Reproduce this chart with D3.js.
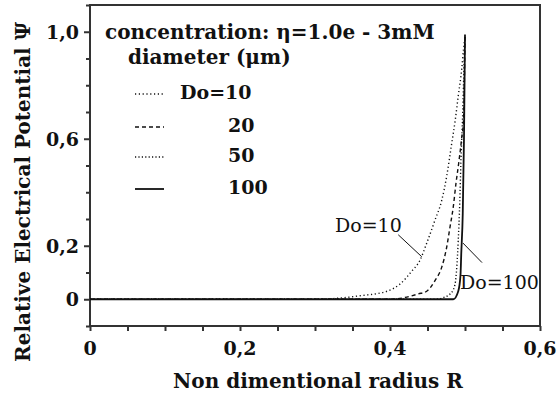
<!DOCTYPE html>
<html>
<head>
<meta charset="utf-8">
<script src="https://cdn.jsdelivr.net/npm/d3@7"></script>
<style>
  html, body { margin: 0; padding: 0; background: #fff; }
  svg text { font-family: "DejaVu Serif", "Liberation Serif", serif; font-weight: bold; fill: #111; }
  svg text.note { font-weight: normal; }
</style>
</head>
<body>
<svg id="chart" width="558" height="396"></svg>
<script>
// Relative electrical potential Ψ against non-dimensional radius R
const xTicksMajor = [0, 0.2, 0.4, 0.6];
const xTickLabels = ["0", "0,2", "0,4", "0,6"];
const yTicksLabelled = [0, 0.2, 0.6, 1.0];
const yTickLabels = ["0", "0,2", "0,6", "1,0"];

// Do = 10 µm
const r10   = [0, 0.30, 0.36, 0.396, 0.413, 0.429, 0.44, 0.449, 0.46, 0.469, 0.4756, 0.482, 0.487, 0.491, 0.4956, 0.498, 0.5];
const psi10 = [0, 0.0, 0.013, 0.03, 0.056, 0.105, 0.146, 0.21, 0.296, 0.37, 0.46, 0.577, 0.67, 0.76, 0.86, 0.935, 0.98];
// Do = 20 µm
const r20   = [0, 0.40, 0.438, 0.449, 0.46, 0.469, 0.4756, 0.48, 0.4844, 0.488, 0.491, 0.4955, 0.498, 0.5];
const psi20 = [0, 0.0, 0.02, 0.03, 0.07, 0.12, 0.195, 0.27, 0.346, 0.434, 0.496, 0.6, 0.67, 0.98];
// Do = 50 µm
const r50   = [0, 0.46, 0.471, 0.482, 0.4867, 0.489, 0.491, 0.493, 0.4945, 0.497, 0.4985, 0.5];
const psi50 = [0, 0.0, 0.006, 0.025, 0.056, 0.119, 0.22, 0.36, 0.51, 0.7, 0.85, 0.98];
// Do = 100 µm
const r100   = [0, 0.4844, 0.491, 0.494, 0.495, 0.497, 0.4987, 0.5];
const psi100 = [0, 0.0, 0.03, 0.09, 0.17, 0.32, 0.61, 0.99];

const legendTitle = ["concentration: η=1.0e - 3mM", "diameter (μm)"];
const legendLabels = ["Do=10", "20", "50", "100"];
const seriesStyles = [
  { dash: "1.2,2.6", width: 1.4 },
  { dash: "4,3", width: 1.4 },
  { dash: "1.2,2.2", width: 1.4 },
  { dash: null, width: 1.8 }
];

// In-plot annotations, in data units
const noteText = ["Do=10", "Do=100"];
const noteAt = [[0.3267, 0.251], [0.4933, 0.0375]];
const noteLeader = [
  [[0.411, 0.241], [0.4423, 0.159]],
  [[0.4973, 0.21], [0.5227, 0.137]]
];

const series = [[r10, psi10], [r20, psi20], [r50, psi50], [r100, psi100]]
  .map(([r, p]) => r.map((d, i) => [d, p[i]]));

const svg = d3.select("#chart");
const margin = { left: 90, right: 18, top: 5, bottom: 70 };
const W = 558, H = 396;

const x = d3.scaleLinear().domain([0, 0.6]).range([margin.left, W - margin.right]);
const y = d3.scaleLinear().domain([-0.1, 1.1]).range([H - margin.bottom, margin.top]);

const axisColor = "#333";
const labelSize = 20;
const tickSize = 19;

// frame
svg.append("rect")
  .attr("x", x(0)).attr("y", y(1.1))
  .attr("width", x(0.6) - x(0)).attr("height", y(-0.1) - y(1.1))
  .attr("fill", "none").attr("stroke", axisColor).attr("stroke-width", 2);

// x axis: minor every 0.05
const xAxis = d3.axisBottom(x)
  .tickValues(d3.range(0, 0.6001, 0.05))
  .tickSize(5)
  .tickFormat(() => "");
const gx = svg.append("g").attr("transform", `translate(0,${y(-0.1)})`).call(xAxis);
gx.select(".domain").remove();
gx.selectAll(".tick line").attr("stroke", axisColor).attr("stroke-width", 2);

svg.append("g").selectAll("text").data(xTicksMajor).join("text")
  .attr("x", d => x(d)).attr("y", y(-0.1) + 29)
  .attr("text-anchor", "middle").attr("font-size", tickSize)
  .text((d, i) => xTickLabels[i]);

// y axis: ticks every 0.1, longer at labelled values
const yAxis = d3.axisLeft(y)
  .tickValues(d3.range(-0.1, 1.1001, 0.1).map(v => +v.toFixed(2)))
  .tickSize(5)
  .tickFormat(() => "");
const gy = svg.append("g").attr("transform", `translate(${x(0)},0)`).call(yAxis);
gy.select(".domain").remove();
gy.selectAll(".tick line").attr("stroke", axisColor).attr("stroke-width", 2)
  .attr("x2", d => yTicksLabelled.some(v => Math.abs(v - d) < 1e-6) ? -6 : -4);

svg.append("g").selectAll("text").data(yTicksLabelled).join("text")
  .attr("x", x(0) - 11).attr("y", d => y(d) + 7)
  .attr("text-anchor", "end").attr("font-size", tickSize)
  .text((d, i) => yTickLabels[i]);

// curves; the flat part of Do=100 carries the Ψ = 0 baseline
const line = d3.line().x(d => x(d[0])).y(d => y(d[1])).curve(d3.curveMonotoneX);

svg.append("g").selectAll("path").data(series).join("path")
  .attr("d", d => line(d))
  .attr("fill", "none")
  .attr("stroke", "#111")
  .attr("stroke-width", (d, i) => seriesStyles[i].width)
  .attr("stroke-dasharray", (d, i) => seriesStyles[i].dash);

// legend
const lg = svg.append("g");
lg.selectAll("text.title").data(legendTitle).join("text")
  .attr("class", "title")
  .attr("x", (d, i) => i === 0 ? 105 : 128)
  .attr("y", (d, i) => i === 0 ? 39 : 64)
  .attr("font-size", labelSize)
  .text(d => d);

const legendRowsY = [99, 132, 162, 194];
legendLabels.forEach((lab, i) => {
  lg.append("line")
    .attr("x1", 135).attr("x2", 164)
    .attr("y1", legendRowsY[i] - 5).attr("y2", legendRowsY[i] - 5)
    .attr("stroke", "#111")
    .attr("stroke-width", seriesStyles[i].width)
    .attr("stroke-dasharray", seriesStyles[i].dash);
  lg.append("text")
    .attr("x", i === 0 ? 180 : 228).attr("y", legendRowsY[i])
    .attr("font-size", 19)
    .text(lab);
});

// annotations with leader lines
noteText.forEach((t, i) => {
  svg.append("text")
    .attr("class", "note")
    .attr("x", x(noteAt[i][0])).attr("y", y(noteAt[i][1]))
    .attr("font-size", 19)
    .text(t);
  svg.append("line")
    .attr("x1", x(noteLeader[i][0][0])).attr("y1", y(noteLeader[i][0][1]))
    .attr("x2", x(noteLeader[i][1][0])).attr("y2", y(noteLeader[i][1][1]))
    .attr("stroke", "#111").attr("stroke-width", 1);
});

// axis titles
svg.append("text")
  .attr("x", (x(0) + x(0.6)) / 2 + 3).attr("y", 388)
  .attr("text-anchor", "middle").attr("font-size", labelSize)
  .text("Non dimentional radius R");

svg.append("text")
  .attr("transform", `translate(30,${(7 + 377) / 2}) rotate(-90)`)
  .attr("text-anchor", "middle").attr("font-size", labelSize)
  .text("Relative Electrical Potential Ψ");
</script>
</body>
</html>
